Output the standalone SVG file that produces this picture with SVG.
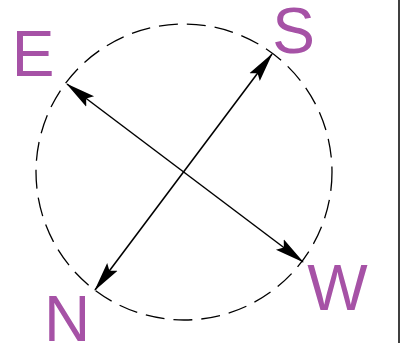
<svg xmlns="http://www.w3.org/2000/svg" width="405" height="343" viewBox="0 0 405 343">
<style>
.lbl{font-family:"Liberation Sans",Arial,sans-serif;font-size:64px;fill:#A652A6;text-anchor:middle}
.ax{stroke:#000;stroke-width:1.5;fill:none;marker-start:url(#ah);marker-end:url(#ah)}
</style>
<defs>
<marker id="ah" markerUnits="userSpaceOnUse" markerWidth="30" markerHeight="16" viewBox="0 0 30 16" refX="29" refY="8" orient="auto-start-reverse">
<path d="M0,1.5 L30,8 L0,14.5 L5,8 Z" fill="#000"/>
</marker>
</defs>
<rect width="405" height="343" fill="#fff"/>
<line x1="399" y1="0" x2="399" y2="343" stroke="#000" stroke-width="1.5"/>
<g id="circle">
<circle cx="184" cy="172" r="148" fill="none" stroke="#000" stroke-width="1.3" stroke-dasharray="19,9"/>
</g>
<g id="connectors">
<line class="ax" x1="67" y1="84" x2="303" y2="262"/>
<line class="ax" x1="95" y1="290" x2="272" y2="54"/>
</g>
<g id="E"><text class="lbl" x="33" y="76">E</text></g>
<g id="S"><text class="lbl" x="293.5" y="53">S</text></g>
<g id="W"><text class="lbl" x="337.5" y="310">W</text></g>
<g id="N"><text class="lbl" x="67" y="341">N</text></g>
</svg>
